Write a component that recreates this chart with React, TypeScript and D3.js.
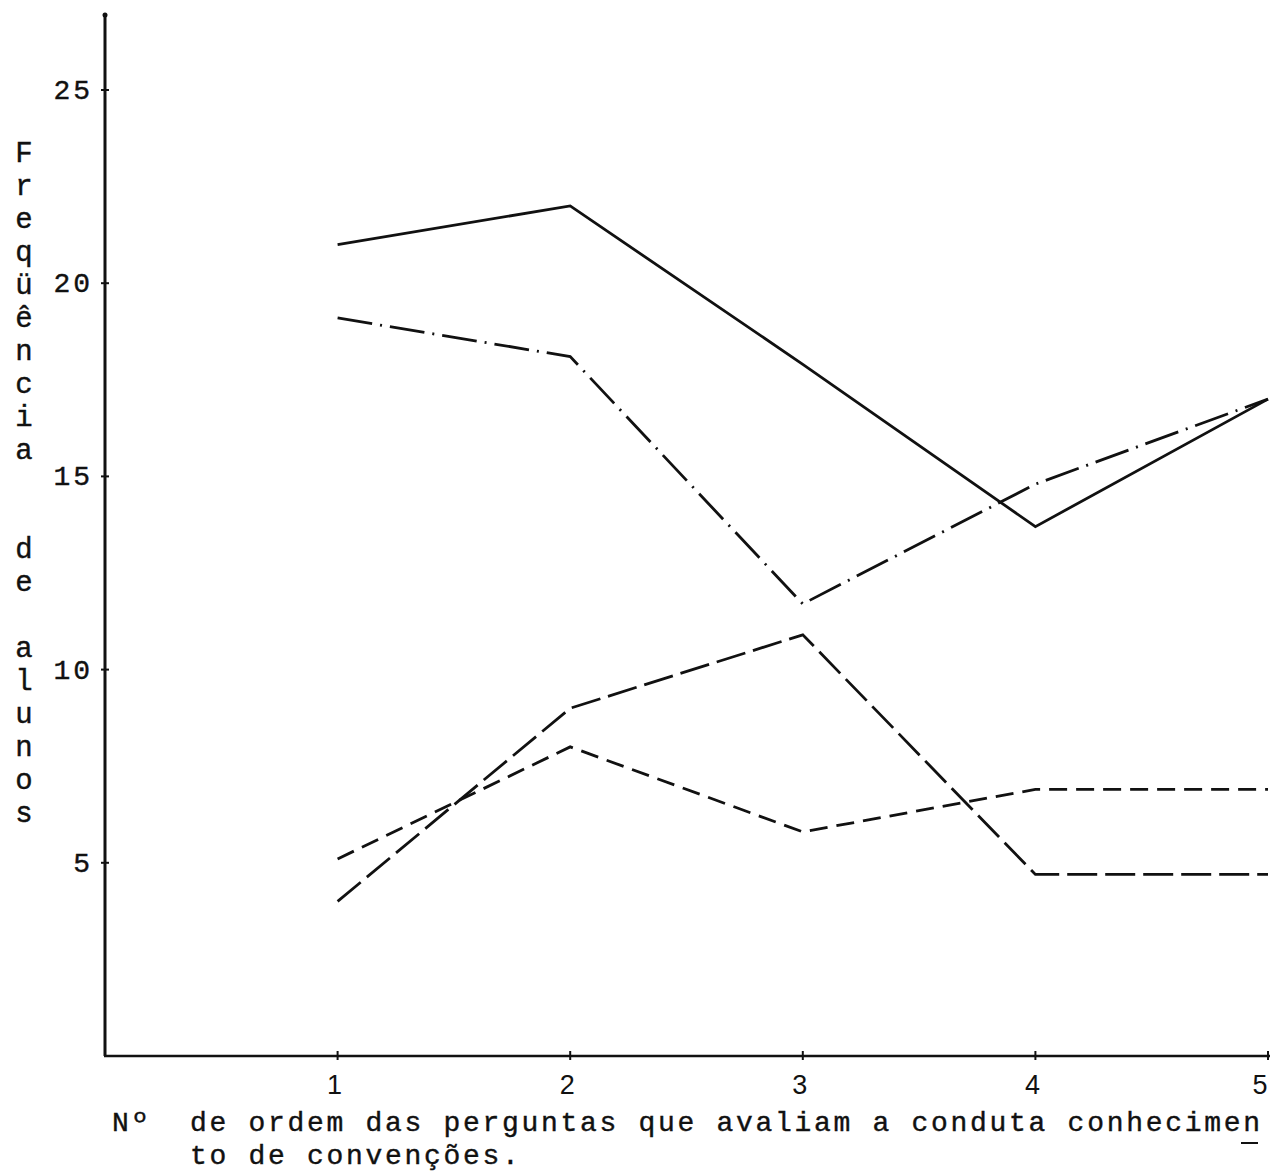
import React from "react";
import * as d3 from "d3";

// question order (x axis)
const questions = [1, 2, 3, 4, 5];
// student frequency per series
const solidSeries = [21, 22, 17.9, 13.7, 17];
const dashDotSeries = [19.1, 18.1, 11.7, 14.8, 17];
const longDashSeries = [4, 9, 10.9, 4.7, 4.7];
const shortDashSeries = [5.1, 8, 5.8, 6.9, 6.9];

const yTicks = [5, 10, 15, 20, 25];
const xTicks = [1, 2, 3, 4, 5];
const yLabel = "Freqüência  de alunos";
const captionLead = "Nº";
const caption1 = "de ordem das perguntas que avaliam a conduta conhecimen";
const caption2 = "to de convenções.";

const W = 1273;
const H = 1172;
const mono = "'Liberation Mono', 'DejaVu Sans Mono', monospace";

export default function App() {
  const x = d3.scaleLinear().domain([0, 5]).range([105, 1268]);
  const y = d3.scaleLinear().domain([0, 25]).range([1056, 90]);

  const line = d3
    .line<number>()
    .x((_, i) => x(questions[i]))
    .y((d) => y(d));

  const series = [
    { data: solidSeries, dash: "none" },
    { data: dashDotSeries, dash: "35 8 2 8" },
    { data: longDashSeries, dash: "30 8" },
    { data: shortDashSeries, dash: "18 9" },
  ];

  const axisY = 1056;
  // typewriter text is a touch heavier in the scan
  const typed = { fontFamily: mono, fill: "#111", stroke: "#111", strokeWidth: 0.4 };

  return (
    <svg
      width={W}
      height={H}
      style={{ position: "absolute", left: 0, top: 0, background: "#fff" }}
    >
      <rect width={W} height={H} fill="#fff" />

      {/* axes */}
      <line x1={105} y1={15} x2={105} y2={axisY} stroke="#111" strokeWidth={3} />
      <line x1={104} y1={axisY} x2={1270} y2={axisY} stroke="#111" strokeWidth={2.5} />
      <circle cx={105} cy={15} r={2.5} fill="#111" />

      {yTicks.map((t) => (
        <g key={"y" + t}>
          <line x1={101} x2={109} y1={y(t)} y2={y(t)} stroke="#111" strokeWidth={2} />
          <text x={93} y={y(t) + 9} textAnchor="end" fontSize={28} letterSpacing={3} {...typed}>
            {t}
          </text>
        </g>
      ))}

      {xTicks.map((t) => (
        <g key={"x" + t}>
          <line x1={x(t)} x2={x(t)} y1={axisY - 5} y2={axisY + 4} stroke="#111" strokeWidth={2} />
          <text
            x={t === 5 ? x(t) - 8 : x(t) - 3}
            y={1094}
            textAnchor="middle"
            fontFamily="'Liberation Sans', 'DejaVu Sans', sans-serif"
            fontSize={27}
            fill="#111"
          >
            {t}
          </text>
        </g>
      ))}

      {/* vertical stacked axis title */}
      {yLabel.split("").map((ch, i) =>
        ch === " " ? null : (
          <text key={"l" + i} x={24} y={162 + i * 33} textAnchor="middle" fontSize={29} {...typed}>
            {ch}
          </text>
        )
      )}

      {/* series */}
      {series.map((s, i) => (
        <path
          key={"s" + i}
          d={line(s.data) ?? ""}
          fill="none"
          stroke="#111"
          strokeWidth={2.8}
          strokeDasharray={s.dash}
        />
      ))}

      {/* caption */}
      <text x={112} y={1131} fontSize={28} letterSpacing={2.7} {...typed}>
        {captionLead}
      </text>
      <text x={190} y={1131} fontSize={28} letterSpacing={2.7} {...typed}>
        {caption1}
      </text>
      <text x={190} y={1164} fontSize={28} letterSpacing={2.7} {...typed}>
        {caption2}
      </text>
      <line x1={1241} x2={1258} y1={1143} y2={1143} stroke="#111" strokeWidth={2} />
    </svg>
  );
}
